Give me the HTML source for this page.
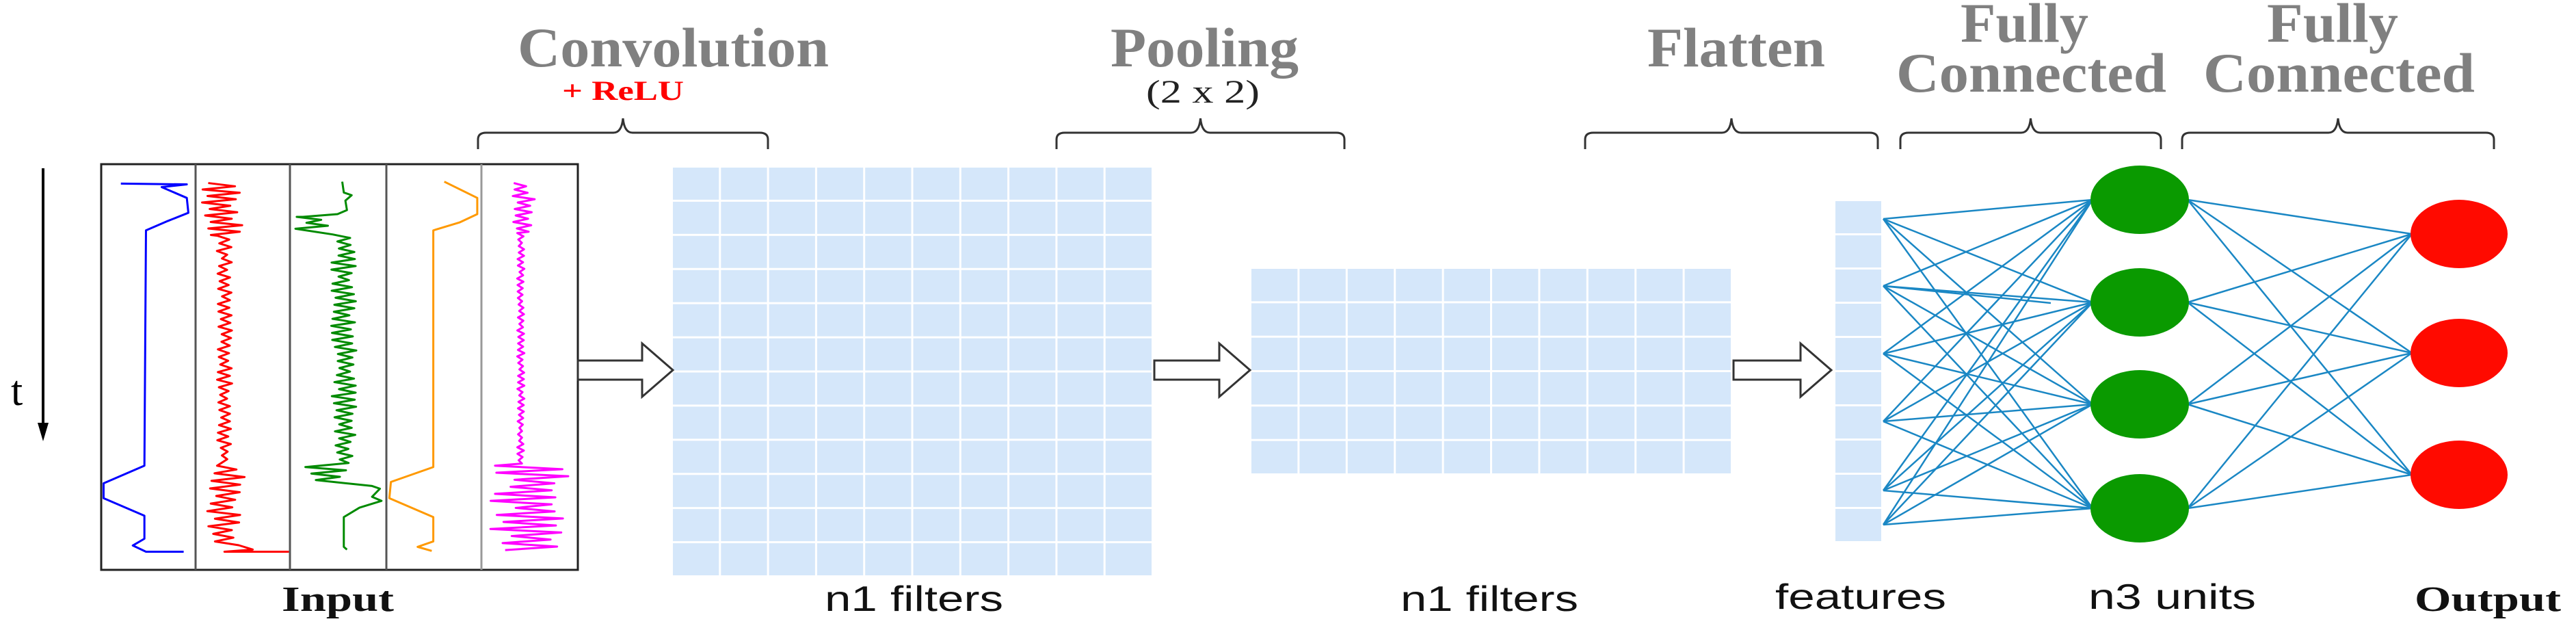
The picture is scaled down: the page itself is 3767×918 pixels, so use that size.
<!DOCTYPE html>
<html><head><meta charset="utf-8"><style>
html,body{margin:0;padding:0;background:#fff;}
svg{display:block;}
</style></head><body>
<svg id="s" width="3767" height="918" viewBox="0 0 3767 918" xmlns="http://www.w3.org/2000/svg">
<rect width="3767" height="918" fill="#fff"/>
<g font-family="Liberation Serif, serif" font-weight="bold" fill="#808080">
<text x="757" y="97" font-size="82" textLength="455" lengthAdjust="spacingAndGlyphs">Convolution</text>
<text x="822" y="146" font-size="40" fill="#ff0000" textLength="178" lengthAdjust="spacingAndGlyphs">+ ReLU</text>
<text x="1624" y="97" font-size="82" textLength="275" lengthAdjust="spacingAndGlyphs">Pooling</text>
<text x="1676" y="150" font-size="48" font-weight="normal" fill="#222" textLength="166" lengthAdjust="spacingAndGlyphs">(2 x 2)</text>
<text x="2409" y="97" font-size="82" textLength="260" lengthAdjust="spacingAndGlyphs">Flatten</text>
<text x="2867" y="61" font-size="82" textLength="187" lengthAdjust="spacingAndGlyphs">Fully</text>
<text x="2773" y="134" font-size="82" textLength="395" lengthAdjust="spacingAndGlyphs">Connected</text>
<text x="3315" y="61" font-size="82" textLength="192" lengthAdjust="spacingAndGlyphs">Fully</text>
<text x="3222" y="134" font-size="82" textLength="397" lengthAdjust="spacingAndGlyphs">Connected</text>
</g>
<g fill="none" stroke="#333" stroke-width="3" id="braces"></g>
<rect x="148" y="240" width="697" height="593" fill="none" stroke="#222" stroke-width="3"/>
<g stroke="#555" stroke-width="3">
<line x1="286" y1="240" x2="286" y2="833"/><line x1="424" y1="240" x2="424" y2="833"/>
<line x1="565" y1="240" x2="565" y2="833"/><line x1="704" y1="240" x2="704" y2="833" stroke="#999"/>
</g>
<g id="traces" transform="translate(140,230) scale(0.4592,0.3954)" fill="none" stroke-width="3" stroke-linejoin="round">
<polyline vector-effect="non-scaling-stroke" stroke="#0000ff" points="80,97 290,100 210,110 290,150 295,205 230,235 160,270 155,1140 25,1205 25,1260 155,1325 155,1410 118,1435 160,1458 280,1458"/>
<polyline vector-effect="non-scaling-stroke" stroke="#ff9900" points="1110,90 1215,150 1215,210 1160,240 1075,270 1075,1145 940,1200 935,1260 1075,1330 1075,1420 1025,1440 1070,1455"/>
</g>
<line x1="63" y1="246" x2="63" y2="625" stroke="#000" stroke-width="4"/>
<polygon points="55,618 71,618 63,645" fill="#000"/>
<text x="16" y="592" font-family="Liberation Serif, serif" font-size="62">t</text>
<g id="grids" fill="#d5e7fa"></g>
<g fill="#fff" stroke="#333" stroke-width="3" id="arrows"></g>
<g id="lines" stroke="#1a87c4" stroke-width="2.5"></g>
<g fill="#0a9a00">
<ellipse cx="3129" cy="292" rx="72" ry="50"/><ellipse cx="3129" cy="442" rx="72" ry="50"/>
<ellipse cx="3129" cy="591" rx="72" ry="50"/><ellipse cx="3129" cy="743" rx="72" ry="50"/>
</g>
<g fill="#ff0a00">
<ellipse cx="3596" cy="342" rx="71" ry="50"/><ellipse cx="3596" cy="516" rx="71" ry="50"/><ellipse cx="3596" cy="694" rx="71" ry="50"/>
</g>
<g font-size="52" fill="#111">
<text x="412" y="893" font-family="Liberation Serif, serif" font-weight="bold" textLength="164" lengthAdjust="spacingAndGlyphs">Input</text>
<text x="1206" y="893" font-family="Liberation Sans, sans-serif" textLength="261" lengthAdjust="spacingAndGlyphs">n1 filters</text>
<text x="2048" y="893" font-family="Liberation Sans, sans-serif" textLength="260" lengthAdjust="spacingAndGlyphs">n1 filters</text>
<text x="2596" y="890" font-family="Liberation Sans, sans-serif" textLength="250" lengthAdjust="spacingAndGlyphs">features</text>
<text x="3054" y="890" font-family="Liberation Sans, sans-serif" textLength="245" lengthAdjust="spacingAndGlyphs">n3 units</text>
<text x="3531" y="893" font-family="Liberation Serif, serif" font-weight="bold" textLength="214" lengthAdjust="spacingAndGlyphs">Output</text>
</g>
</svg>
<script>
var NS="http://www.w3.org/2000/svg";
function el(p,t,a){var e=document.createElementNS(NS,t);for(var k in a)e.setAttribute(k,a[k]);p.appendChild(e);return e;}
var seed=7;function rnd(){seed=(seed*9301+49297)%233280;return seed/233280;}
var br=document.getElementById('braces');
[[699,1123],[1545,1966],[2318,2746],[2779,3160],[3191,3647]].forEach(function(b){
var a=b[0],c=b[1],m=(a+c)/2;
el(br,'path',{d:'M'+a+',218 L'+a+',204 Q'+a+',194 '+(a+12)+',194 L'+(m-14)+',194 Q'+(m-2)+',194 '+m+',173 Q'+(m+2)+',194 '+(m+14)+',194 L'+(c-12)+',194 Q'+c+',194 '+c+',204 L'+c+',218'});
});
var tr=document.getElementById('traces');
function zig(segs,color,extraStart,extraEnd){
var pts=extraStart?extraStart.slice():[];
segs.forEach(function(s){var y=s[0],y1=s[1],x0=s[2],x1=s[3],st=s[4];var side=0;
for(;y<y1;y+=st){var r=rnd()*0.35;pts.push([side?x1-(x1-x0)*r:x0+(x1-x0)*r,y]);side=1-side;}});
if(extraEnd)pts=pts.concat(extraEnd);
el(tr,'polyline',{'vector-effect':'non-scaling-stroke',stroke:color,points:pts.map(function(p){return p.join(',')}).join(' ')});
}
zig([[95,290,335,470,12],[290,1140,385,435,14],[1140,1440,355,475,14]],'#ff0000',null,[[500,1450],[410,1458],[615,1458]]);
zig([[220,275,635,750,11],[285,1140,750,830,13],[1145,1200,640,830,12]],'#008a00',[[785,90],[790,130],[815,140],[795,160],[800,195],[770,210],[660,220]],[[880,1215],[905,1225],[880,1255],[910,1270],[840,1295],[790,1330],[790,1440],[800,1450]]);
zig([[95,280,1315,1400,12],[280,1140,1342,1365,12],[1140,1455,1245,1520,13]],'#ff00ff',null,null);
var g=document.getElementById('grids');
function grid(x,y,w,h,c,r){var cw=w/c,rh=h/r;for(var i=0;i<c;i++)for(var j=0;j<r;j++)el(g,'rect',{x:x+i*cw,y:y+j*rh,width:cw-3,height:rh-3});}
grid(984,245,703,599,10,12);
grid(1830,393,704,302,10,6);
grid(2684,294,70,500,1,10);
var ar=document.getElementById('arrows');
[[845,984],[1688,1828],[2535,2678]].forEach(function(a){var x0=a[0],x1=a[1],xm=x1-45;
el(ar,'polygon',{points:x0+',527 '+xm+',527 '+xm+',502 '+x1+',541 '+xm+',580 '+xm+',555 '+x0+',555'});});
var L=document.getElementById('lines');
var src=[320,418,517,616,717,767],gr=[292,442,591,743],rd=[342,516,694];
src.forEach(function(s){gr.forEach(function(t){el(L,'line',{x1:2754,y1:s,x2:3060,y2:t});});});
el(L,'line',{x1:2754,y1:418,x2:2999,y2:443});
gr.forEach(function(s){rd.forEach(function(t){el(L,'line',{x1:3199,y1:s,x2:3527,y2:t});});});
</script>
</body></html>
